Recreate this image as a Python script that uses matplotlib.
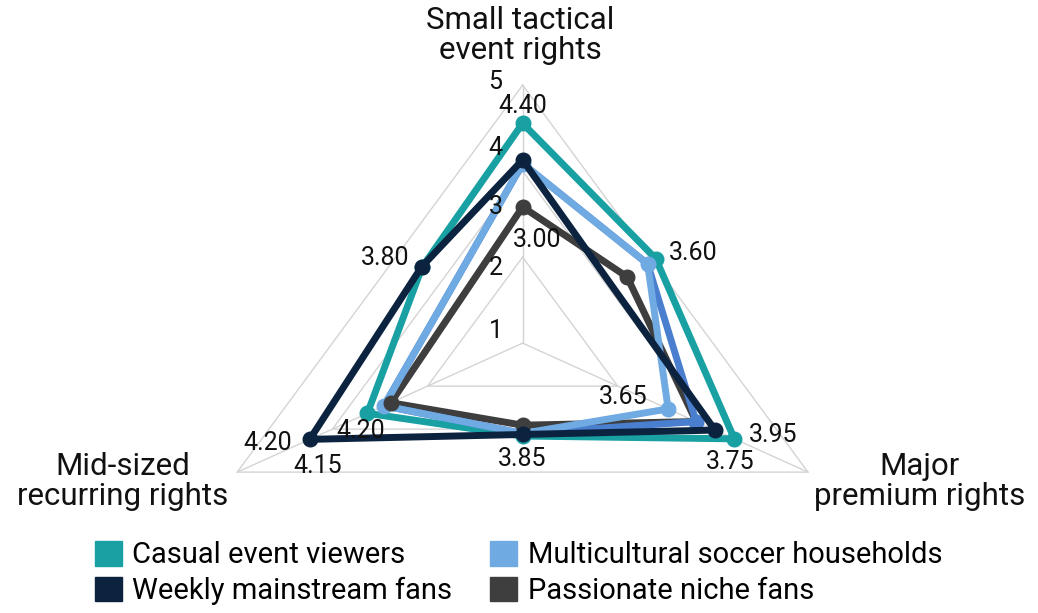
import matplotlib.pyplot as plt
import numpy as np
from matplotlib.patches import Patch

plt.rcParams['font.family'] = ['Roboto', 'DejaVu Sans']

# six spokes, only three carry a name
categories = ['Small tactical\nevent rights', '', 'Major\npremium rights', '',
              'Mid-sized\nrecurring rights', '']

series_names = ['Casual event viewers', 'Weekly mainstream fans',
                'Multicultural soccer households', 'Passionate niche fans']

casual = [4.26, 2.60, 3.71, 1.80, 2.72, 2.12]
weekly = [3.55, 1.75, 3.37, 1.77, 3.73, 2.13]
multicultural = [3.48, 2.44, 2.55, 1.75, 2.43, 1.51]
multicultural_b = [3.48, 2.44, 3.04, 1.75, 2.43, 1.51]  # second blue trace, not in legend
passionate = [2.64, 2.04, 3.04, 1.59, 2.31, 1.28]

tick_values = [1, 2, 3, 4, 5]

# value labels printed next to the points: (text, series, category, offset px)
point_labels = [
    ('4.40', 'casual', 0, (0, 17)),
    ('3.60', 'casual', 1, (37, 6)),
    ('3.95', 'casual', 2, (39, 4)),
    ('3.75', 'casual', 2, (-4, -23)),
    ('3.65', 'multicultural', 2, (-45, 12)),
    ('3.85', 'multicultural', 3, (0, -26)),
    ('4.20', 'casual', 4, (-7, -18)),
    ('4.20', 'weekly', 4, (-42, -4)),
    ('4.15', 'weekly', 4, (8, -27)),
    ('3.80', 'weekly', 5, (-37, 9)),
    ('3.00', 'passionate', 0, (15, -33)),
]

teal = '#18a0a2'
navy = '#0c2340'
light_blue = '#70aae2'
mid_blue = '#4a7fd0'
dark_gray = '#3e3e3e'
grid_c = '#d4d4d4'

angles = np.deg2rad([90, 39, -30, -90, 210, 136])
spoke_angles = np.deg2rad([90, -30, 210])
r_max = 5

fig = plt.figure(figsize=(10.38, 6.13), dpi=100)
ax = fig.add_axes([0, 0, 1, 1])
ax.set_xlim(-7.93, 7.82)
ax.set_ylim(-5.23, 6.65)
ax.axis('off')

# triangular grid
for ring in [r_max / 3, 2 * r_max / 3, r_max]:
    a = np.append(spoke_angles, spoke_angles[0])
    ax.plot(ring * np.cos(a), ring * np.sin(a), color=grid_c, lw=1, zorder=0)
for a in spoke_angles:
    ax.plot([0, r_max * np.cos(a)], [0, r_max * np.sin(a)], color=grid_c, lw=1, zorder=0)

# scale numbers on the vertical spoke
tick_r = [0.24, 1.46, 2.64, 3.79, 5.06]
for v, r in zip(tick_values, tick_r):
    ax.annotate(str(v), (0, r), xytext=(-27, 0), textcoords='offset pixels',
                ha='center', va='center', fontsize=18, color='#111111', zorder=7)

# values, colour, line zorder, dot zorder, which vertices get a dot
series = {
    'casual': (casual, teal, 2, 2.1, [0, 1, 2, 3, 4, 5]),
    'passionate': (passionate, dark_gray, 3, 5.5, [0, 1, 3, 4]),
    'multicultural_b': (multicultural_b, mid_blue, 4, 4.1, [2]),
    'multicultural': (multicultural, light_blue, 5, 5.1, [0, 1, 2, 3, 4]),
    'weekly': (weekly, navy, 6, 6.1, [0, 2, 3, 4, 5]),
}

for key, (vals, col, z, zdot, dots) in series.items():
    v = np.array(vals + vals[:1])
    a = np.append(angles, angles[0])
    x, y = v * np.cos(a), v * np.sin(a)
    ax.plot(x, y, color=col, lw=5, solid_joinstyle='round', zorder=z)
    ax.plot(x[dots], y[dots], 'o', color=col, ms=10.5, zorder=zdot)

for txt, key, i, (dx, dy) in point_labels:
    v = series[key][0][i]
    ax.annotate(txt, (v * np.cos(angles[i]), v * np.sin(angles[i])), xytext=(dx, dy),
                textcoords='offset pixels', ha='center', va='center',
                fontsize=18, color='#111111', zorder=8)

# category names
label_pos = {0: (0.501, 0.942), 2: (0.886, 0.214), 4: (0.118, 0.214)}
for i, (x, y) in label_pos.items():
    ax.text(x, y, categories[i], transform=ax.transAxes, ha='center', va='center',
            fontsize=22.5, linespacing=1.05, color='#111111')

handles = [Patch(color=teal), Patch(color=navy), Patch(color=light_blue), Patch(color=dark_gray)]
names = [series_names[0], series_names[1], series_names[2], series_names[3]]
fig.legend(handles, names, loc='upper left', bbox_to_anchor=(95 / 1038, 1 - 541 / 613),
           ncol=2, frameon=False, fontsize=21, handlelength=0.93, handleheight=0.93,
           handletextpad=0.35, columnspacing=1.3, labelspacing=0.25, borderpad=0,
           borderaxespad=0)

fig.savefig('out.png', dpi=100, facecolor='white')
